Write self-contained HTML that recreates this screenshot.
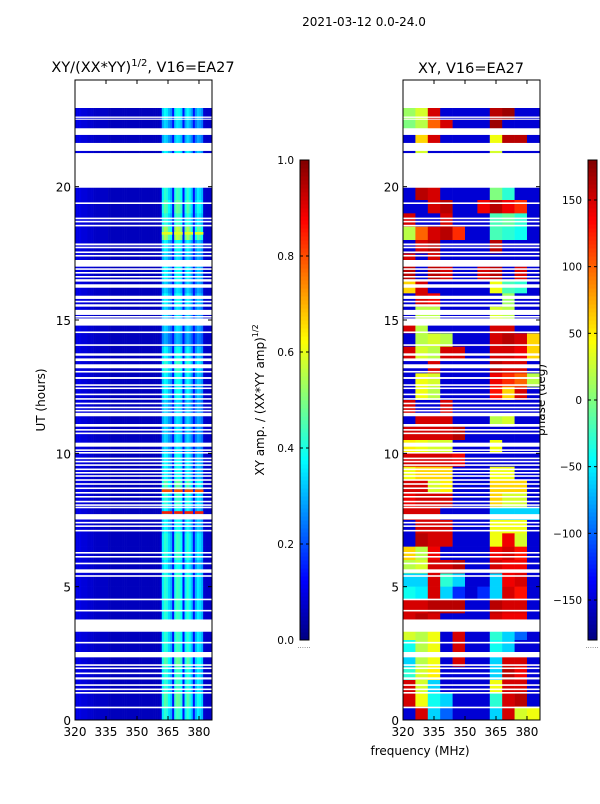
<!DOCTYPE html>
<html><head><meta charset="utf-8"><style>
body{margin:0;background:#fff;font-family:"DejaVu Sans","Liberation Sans",sans-serif;}
svg text{font-family:"DejaVu Sans","Liberation Sans",sans-serif;}
</style></head><body>
<svg id="fig" width="600" height="800" xmlns="http://www.w3.org/2000/svg">
<text x="364" y="26" font-size="12" text-anchor="middle">2021-03-12 0.0-24.0</text>
<text x="143" y="72" font-size="14.5" text-anchor="middle">XY/(XX*YY)<tspan font-size="10" dy="-6">1/2</tspan><tspan dy="6">, V16=EA27</tspan></text>
<text x="471" y="73" font-size="14.5" text-anchor="middle">XY, V16=EA27</text>
<text transform="translate(45,400) rotate(-90)" font-size="12" text-anchor="middle">UT (hours)</text>
<text x="420" y="755" font-size="12" text-anchor="middle">frequency (MHz)</text>
<text transform="translate(264,400) rotate(-90)" font-size="12" text-anchor="middle">XY amp. / (XX*YY amp)<tspan font-size="8" dy="-6">1/2</tspan></text>
<text transform="translate(545,400) rotate(-90)" font-size="12" text-anchor="middle">phase (deg)</text>
<g id="left"></g>
<g id="right"></g>
<g id="axes"></g>
</svg>
<script>
const hourTicks=[0,5,10,15,20];
const freqTicks=[320,335,350,365,380];
const ampTicks=[0.0,0.2,0.4,0.6,0.8,1.0];
const phaseTicks=[-150,-100,-50,0,50,100,150];
// gaps (white bands) in hours [start,end]
const gaps=[[22.95,24],[22.58,22.63],[22.51,22.55],[21.94,22.19],[21.34,21.64],[19.96,21.26],[19.35,19.41],[18.78,18.84],[18.66,18.72],[18.51,18.57],[17.8,17.87],[17.69,17.75],[17.51,17.57],[17.38,17.44],[17.0,17.25],[16.88,16.94],[16.74,16.8],[16.59,16.65],[16.44,16.53],[16.21,16.34],[15.79,15.91],[15.66,15.72],[15.5,15.59],[15.19,15.38],[15.09,15.15],[14.79,15.06],[14.51,14.57],[14.03,14.09],[13.66,13.75],[13.46,13.56],[13.19,13.34],[13.03,13.09],[12.79,12.86],[12.53,12.59],[12.41,12.47],[12.18,12.24],[12.01,12.07],[11.84,11.9],[11.69,11.75],[11.57,11.63],[11.39,11.52],[11.0,11.1],[10.85,10.91],[10.72,10.78],[10.25,10.4],[10.09,10.15],[9.99,10.05],[9.78,9.84],[9.66,9.72],[9.53,9.59],[9.37,9.43],[9.24,9.3],[9.12,9.18],[8.97,9.03],[8.82,8.88],[8.66,8.72],[8.49,8.55],[8.34,8.4],[8.16,8.22],[8.03,8.09],[7.94,8.0],[7.52,7.72],[7.37,7.43],[7.24,7.3],[7.07,7.13],[6.24,6.3],[6.09,6.15],[5.84,5.9],[5.52,5.65],[5.37,5.43],[4.49,4.55],[4.07,4.13],[3.31,3.77],[2.87,2.93],[2.35,2.55],[2.03,2.09],[1.91,1.97],[1.72,1.78],[1.52,1.6],[1.28,1.34],[1.12,1.18],[0.99,1.05],[0.44,0.5]];
// amplitude per 1-MHz column, 320..385
const ampCols=[0.1,0.1,0.1,0.09,0.09,0.09,0.08,0.08,0.08,0.07,0.07,0.07,0.07,0.07,0.07,0.07,0.06,0.06,0.06,0.06,0.06,0.06,0.06,0.06,0.06,0.06,0.06,0.06,0.06,0.06,0.06,0.06,0.06,0.06,0.06,0.06,0.06,0.06,0.06,0.06,0.06,0.08,0.36,0.42,0.4,0.34,0.3,0.14,0.4,0.44,0.42,0.38,0.14,0.36,0.42,0.38,0.32,0.14,0.3,0.36,0.34,0.3,0.08,0.07,0.07,0.07];
// amplitude row factors per 0.5 hr, top (23.5-24) down to (0-0.5)
const ampRows=[1,1,0.9,0.8,0.8,0.9,1,1,1,1.1,1,1.3,0.9,0.8,0.9,0.8,0.9,0.8,0.8,0.7,0.9,1,0.9,0.9,0.8,0.8,0.8,0.8,0.9,0.9,1.1,1,0.9,0.9,1,1,0.9,1,1,1,1,1,1,1.1,1,1,1.1,1];
const hotHours=[18.25,8.6,7.78];
const hotVals=[0.6,0.8,0.85];
// phase (deg), rows of 0.5 hr top-down, 11 columns of 6 MHz
const phase=[
[-140,-140,-140,-140,-140,-140,-140,-140,-140,-140,-140],
[-140,-140,-140,-140,-140,-140,-140,-140,-140,-140,-140],
[10,30,150,-150,-150,-150,-150,160,170,-150,-150],
[0,20,100,150,-150,-150,-150,170,-150,-150,-150],
[-150,60,150,-150,-150,-150,-150,40,160,160,-150],
[-150,30,-150,-150,-150,-150,-150,30,-150,-150,-150],
[-140,-140,-140,-140,-140,-140,-140,-140,-140,-140,-140],
[-140,-140,-140,-140,-140,-140,-140,-140,-140,-140,-140],
[-150,160,150,-150,-150,-150,-150,0,-30,-150,-150],
[-150,-150,150,160,-150,-150,140,160,140,120,-150],
[150,-150,-150,150,-150,-150,-150,-20,-10,-30,-150],
[20,100,150,160,120,-150,-150,-20,-30,-40,-150],
[-150,150,160,-150,-150,-150,-150,160,-150,-150,-150],
[150,-150,150,-150,-150,-150,-150,-150,-150,-150,-150],
[160,-150,160,150,-150,-150,150,160,-150,150,-150],
[60,150,-150,-150,-150,-150,-150,40,-20,-30,-150],
[-150,150,140,-150,-150,-150,-150,-150,10,-150,-150],
[-150,20,20,-150,-150,-150,-150,30,20,-150,-150],
[150,20,-150,-150,-150,-150,-150,150,150,-150,-150],
[-150,20,30,20,-150,-150,-150,150,160,150,60],
[150,30,20,150,150,-150,-150,150,150,140,60],
[-150,-150,150,-150,-150,-150,-150,160,150,150,-150],
[-150,40,30,-150,-150,-150,-150,140,120,100,20],
[-150,40,20,-150,-150,-150,-150,130,60,150,-150],
[150,-150,-150,150,-150,-150,-150,-150,-150,-150,-150],
[-150,150,150,150,-150,-150,-150,20,30,-150,-150],
[150,150,150,150,160,-150,-150,-150,-150,-150,-150],
[50,40,30,30,-150,-150,-150,40,-150,-150,-150],
[150,150,150,150,140,-150,-150,-150,-150,-150,-150],
[40,60,60,60,-150,-150,-150,40,40,-150,-150],
[150,150,30,50,-150,-150,-150,60,60,60,-150],
[140,150,150,150,-150,-150,-150,60,30,30,-150],
[150,150,150,-150,-150,-150,-150,-60,-60,-60,-60],
[-150,150,150,150,-150,-150,-150,40,40,40,-150],
[-150,160,150,150,-150,-150,-150,40,140,30,-150],
[60,20,140,-150,-150,-150,-150,140,150,130,-150],
[20,30,150,150,160,-150,-150,150,140,140,-150],
[-60,-60,150,-30,-60,-150,-150,-60,140,150,-150],
[-40,-50,150,-60,-120,-150,-120,-60,150,130,-150],
[150,150,160,160,160,-150,-150,160,150,150,-150],
[150,160,150,-150,-150,-150,-150,150,140,140,-150],
[30,20,40,-150,150,-150,-150,-30,-60,-100,-150],
[-40,20,40,-150,150,-150,-150,-40,-60,-150,-150],
[-60,20,40,-150,150,-150,-150,-60,150,150,-150],
[-30,30,50,-150,-150,-150,-150,-60,160,140,-150],
[150,30,-60,-150,-150,-150,-150,40,150,150,-150],
[150,40,-40,-60,-150,-150,-150,-30,150,160,-150],
[-150,150,-60,-100,-150,-150,-150,-60,150,30,40]];

const NS="http://www.w3.org/2000/svg";
const PL={x0:75,x1:212},PR={x0:403,x1:540},Y0=720,Y1=80,F0=320,F1=386.3;
function yS(h){return Y0-(h/24)*(Y0-Y1);}
function xS(P,f){return P.x0+(f-F0)/(F1-F0)*(P.x1-P.x0);}
function jet(v){v=Math.max(0,Math.min(1,v));
 const c=t=>Math.max(0,Math.min(1,1.5-Math.abs(4*v-t)));
 return `rgb(${Math.round(255*c(3))},${Math.round(255*c(2))},${Math.round(255*c(1))})`;}
function el(tag,attrs,parent){const e=document.createElementNS(NS,tag);for(const k in attrs)e.setAttribute(k,attrs[k]);parent.appendChild(e);return e;}
const L=document.getElementById('left'),R=document.getElementById('right'),A=document.getElementById('axes');
ampRows.forEach((rf,r)=>{
 const hTop=24-0.5*r,hBot=hTop-0.5;
 ampCols.forEach((cv,c)=>{
  let v=cv>0.2?cv*rf:cv;
  const x=xS(PL,F0+c),w=xS(PL,F0+c+1)-x+0.3;
  const e=el('rect',{x:x,y:yS(hTop),width:w,height:yS(hBot)-yS(hTop)+0.3,fill:jet(v)},L);
  
  
 });
});
hotHours.forEach((h,i)=>{
 ampCols.forEach((cv,c)=>{ if(cv<0.2)return;
  const x=xS(PL,F0+c),w=xS(PL,F0+c+1)-x+0.3;
  const e=el('rect',{x:x,y:yS(h+0.05),width:w,height:yS(h-0.05)-yS(h+0.05),fill:jet(hotVals[i])},L);
  
  
 });
});
phase.forEach((row,r)=>{
 const hTop=24-0.5*r,hBot=hTop-0.5;
 row.forEach((p,c)=>{
  const f0=F0+c*6,f1=Math.min(F1,f0+6);
  const x=xS(PR,f0),w=xS(PR,f1)-x+0.3;
  const e=el('rect',{x:x,y:yS(hTop),width:w,height:yS(hBot)-yS(hTop)+0.3,fill:jet((p+180)/360)},R);
  
  
 });
});
[PL,PR].forEach(P=>{gaps.forEach(g=>{
 const e=el('rect',{x:P.x0,y:yS(g[1]),width:P.x1-P.x0,height:Math.max(1,yS(g[0])-yS(g[1])),fill:'#fff'},P===PL?L:R);
 
 
});});
[PL,PR].forEach((P,i)=>{
 const fr=el('rect',{x:P.x0,y:Y1,width:P.x1-P.x0,height:Y0-Y1,fill:'none',stroke:'#000','stroke-width':1},A);
 
 
 hourTicks.forEach(h=>{const y=yS(h);
  el('line',{x1:P.x0,x2:P.x0+4,y1:y,y2:y,stroke:'#000'},A);
  el('line',{x1:P.x1,x2:P.x1-4,y1:y,y2:y,stroke:'#000'},A);
  const t=el('text',{x:P.x0-4,y:y+5,'font-size':12,'text-anchor':'end'},A);t.textContent=h;
  
  
 });
 freqTicks.forEach(f=>{const x=xS(P,f);
  el('line',{x1:x,x2:x,y1:Y0,y2:Y0-4,stroke:'#000'},A);
  el('line',{x1:x,x2:x,y1:Y1,y2:Y1+4,stroke:'#000'},A);
  const t=el('text',{x:x,y:Y0+16,'font-size':12,'text-anchor':'middle'},A);t.textContent=f;
  
  
 });
});
function colorbar(x,ticks,lo,hi,name,fmt){
 const g=el('g',{},A);
 const top=160,bot=640,n=120;
 for(let i=0;i<n;i++){el('rect',{x:x,y:bot-(i+1)*(bot-top)/n,width:9,height:(bot-top)/n+0.5,fill:jet((i+0.5)/n)},g);}
 el('rect',{x:x,y:top,width:9,height:bot-top,fill:'none',stroke:'#000'},g);
 ticks.forEach(v=>{const y=bot-(v-lo)/(hi-lo)*(bot-top);
  el('line',{x1:x,x2:x+3,y1:y,y2:y,stroke:'#000'},g);
  el('line',{x1:x+9,x2:x+6,y1:y,y2:y,stroke:'#000'},g);
  const t=el('text',{x:x-6,y:y+4,'font-size':10.5,'text-anchor':'end'},g);t.textContent=fmt(v);
  
  
 });
 const d=el('text',{x:x+4,y:648,'font-size':7,'text-anchor':'middle',fill:'#666'},g);d.textContent='......';
}
colorbar(300,ampTicks,0,1,'amplitude-colorbar',v=>v.toFixed(1));
colorbar(588,phaseTicks,-180,180,'phase-colorbar',v=>v<0?'\u2212'+(-v):String(v));
</script>
</body></html>
